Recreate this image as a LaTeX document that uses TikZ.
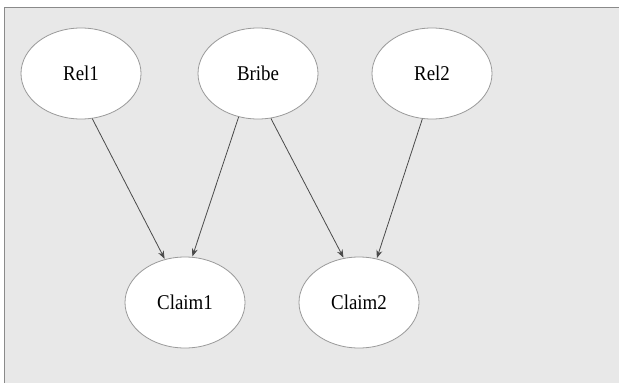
\documentclass[tikz,border=0pt]{standalone}
\usepackage{fontspec}
\setmainfont{Liberation Serif}[FakeStretch=0.9]
\usetikzlibrary{shapes.geometric,arrows.meta}
\definecolor{bg}{HTML}{E8E8E8}
\definecolor{frame}{HTML}{8A8A8A}
\definecolor{edge}{HTML}{9A9A9A}
\definecolor{arr}{HTML}{4A4A4A}
\begin{document}
\begin{tikzpicture}[x=1pt,y=-1pt,
  var/.style={ellipse,draw=edge,fill=white,line width=0.8pt,minimum width=120pt,minimum height=91pt,inner sep=0pt,font=\fontsize{21}{24}\selectfont},
  link/.style={draw=arr,line width=0.8pt,-{Stealth[length=8pt,width=6pt]},shorten >=0.5pt}]
\useasboundingbox (0,0) rectangle (619,383);
\fill[white] (0,0) rectangle (619,383);
\fill[bg] (4,7) rectangle (619,383);
\draw[frame,line width=0.9pt] (4,383) -- (4,7) -- (619,7);
\node[var] (rel1) at (81,73.5) {Rel1};
\node[var] (bribe) at (258,73.5) {Bribe};
\node[var] (rel2) at (432,73.5) {Rel2};
\node[var] (claim1) at (185,302.5) {Claim1};
\node[var] (claim2) at (359,302.5) {Claim2};
\draw[link] (rel1.-76.7) -- (claim1.115.8);
\draw[link] (bribe.-114.3) -- (claim1.81.6);
\draw[link] (bribe.-74.4) -- (claim2.109.9);
\draw[link] (rel2.-102.1) -- (claim2.68.0);
\end{tikzpicture}
\end{document}
